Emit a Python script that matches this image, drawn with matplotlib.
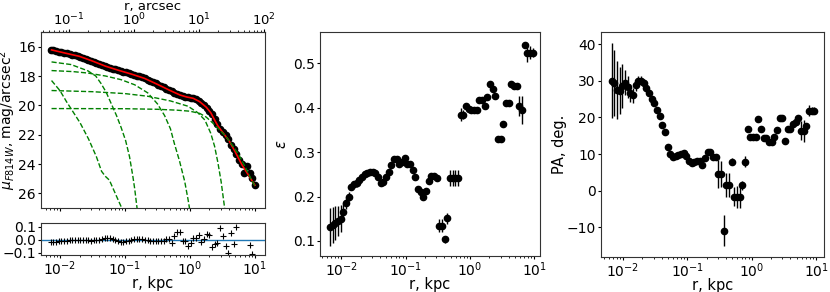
import numpy as np
import matplotlib
matplotlib.use("Agg")
import matplotlib.pyplot as plt

# ---------------- data ----------------
KPC_PER_ARCSEC = 0.137

# surface-brightness profile radii (kpc)
r_prof = [0.00720, 0.00792, 0.00871, 0.00958, 0.01054, 0.01160, 0.01276, 0.01403, 0.01543, 0.01698,
          0.01868, 0.02054, 0.02260, 0.02486, 0.02734, 0.03008, 0.03309, 0.03640, 0.04004, 0.04404,
          0.04844, 0.05329, 0.05862, 0.06448, 0.07093, 0.07802, 0.08582, 0.09440, 0.1038, 0.1142,
          0.1257, 0.1382, 0.1520, 0.1672, 0.1840, 0.2024, 0.2226, 0.2449, 0.2693, 0.2963,
          0.3259, 0.3585, 0.3943, 0.4338, 0.4772, 0.5249, 0.5774, 0.6351, 0.6986, 0.7685,
          0.8453, 0.9299, 1.023, 1.125, 1.238, 1.361, 1.497, 1.647, 1.812, 1.993,
          2.192, 2.412, 2.653, 2.918, 3.210, 3.531, 3.884, 4.272, 4.700, 5.170,
          5.687, 6.255, 6.881, 7.569, 8.326, 9.159, 10.07]
mu_prof = [16.22, 16.26, 16.30, 16.34, 16.38, 16.42, 16.46, 16.50, 16.54, 16.59,
           16.64, 16.70, 16.76, 16.82, 16.88, 16.95, 17.02, 17.09, 17.16, 17.24,
           17.31, 17.37, 17.43, 17.49, 17.55, 17.60, 17.66, 17.71, 17.76, 17.81,
           17.87, 17.92, 17.97, 18.03, 18.10, 18.17, 18.25, 18.33, 18.42, 18.50,
           18.59, 18.68, 18.78, 18.88, 18.97, 19.05, 19.13, 19.20, 19.27, 19.35,
           19.40, 19.44, 19.47, 19.52, 19.60, 19.71, 19.84, 19.98, 20.18, 20.40,
           20.62, 20.95, 21.30, 21.62, 21.85, 22.02, 22.30, 22.68, 23.00, 23.32,
           23.75, 24.03, 24.59, 24.14, 24.62, 24.95, 25.42]
resid = [-0.018, -0.016, -0.014, -0.012, -0.010, -0.008, -0.006, -0.003, 0.000, 0.002,
         0.002, 0.000, -0.002, -0.004, -0.005, -0.006, -0.005, -0.003, 0.002, 0.008,
         0.014, 0.018, 0.016, 0.008, -0.004, -0.012, -0.016, -0.015, -0.012, -0.006,
         0.000, 0.005, 0.008, 0.008, 0.006, 0.002, -0.004, -0.008, -0.010, -0.012,
         -0.012, -0.008, -0.006, 0.004, 0.008, -0.026, 0.026, 0.059, 0.059, -0.008,
         -0.008, -0.051, -0.026, 0.013, 0.018, 0.038, -0.013, 0.008, 0.044, 0.038,
         -0.059, -0.033, -0.026, 0.095, 0.026, -0.051, -0.103, 0.051, -0.033, 0.103,
         np.nan, np.nan, np.nan, np.nan, -0.038, -0.110, np.nan]

# total model (red)
r_model = [0.00741, 0.01259, 0.01995, 0.03162, 0.05012, 0.07943, 0.1259, 0.1995, 0.3162, 0.5012,
           0.7079, 0.8913, 1.122, 1.413, 1.778, 2.089, 2.399, 2.692, 3.162, 3.981,
           5.012, 6.310, 7.943, 10.0]
mu_model = [16.22, 16.46, 16.66, 16.98, 17.33, 17.61, 17.87, 18.16, 18.57, 19.00,
            19.30, 19.43, 19.52, 19.75, 20.12, 20.50, 21.00, 21.40, 21.82, 22.40,
            23.20, 24.05, 24.75, 25.45]

# model components (green dashed)
r_c1 = [0.00741, 0.01, 0.01259, 0.01514, 0.02042, 0.02754, 0.03631, 0.04365, 0.05012, 0.05754, 0.07079, 0.08913, 0.1]
mu_c1 = [18.31, 19.0, 19.75, 20.3, 21.2, 22.3, 23.5, 24.5, 24.85, 25.1, 26.0, 27.0, 27.5]
r_c2 = [0.00741, 0.01479, 0.02692, 0.03548, 0.04266, 0.05129, 0.06166, 0.07413, 0.08710, 0.1023, 0.1175, 0.1318, 0.1413, 0.1514, 0.1585]
mu_c2 = [17.04, 17.22, 17.65, 18.0, 18.5, 19.1, 19.9, 20.7, 21.5, 22.4, 23.5, 24.8, 25.7, 26.8, 27.5]
r_c3 = [0.00741, 0.01585, 0.02692, 0.05012, 0.08710, 0.1413, 0.2239, 0.3162, 0.4074, 0.5012, 0.5754, 0.6918, 0.8318, 0.9333, 1.0]
mu_c3 = [17.63, 17.7, 17.8, 18.0, 18.25, 18.6, 19.15, 19.9, 20.7, 21.6, 22.6, 23.8, 25.2, 26.4, 27.2]
r_c4 = [0.00741, 0.03162, 0.1, 0.2239, 0.5012, 0.9333, 1.318, 1.698, 2.089, 2.399, 2.692, 3.020, 3.236, 3.467]
mu_c4 = [18.99, 19.07, 19.2, 19.38, 19.7, 20.06, 20.5, 21.0, 21.9, 22.8, 23.9, 25.2, 26.2, 27.2]
r_c5 = [0.00741, 0.1, 0.3162, 0.6310, 1.0, 1.413, 1.778, 2.239, 2.818, 3.548, 4.467, 5.623, 7.079, 8.913, 10.0]
mu_c5 = [20.22, 20.23, 20.27, 20.33, 20.4, 20.55, 20.8, 21.2, 21.65, 22.1, 22.7, 23.35, 24.2, 25.1, 25.5]

# isophote-fit radii (kpc)
r_iso = [0.00670, 0.00737, 0.00811, 0.00892, 0.00981, 0.01079, 0.01187, 0.01306, 0.01436, 0.01580,
         0.01738, 0.01912, 0.02103, 0.02313, 0.02544, 0.02799, 0.03079, 0.03387, 0.03725, 0.04098,
         0.04508, 0.04959, 0.05455, 0.06000, 0.06600, 0.07260, 0.07986, 0.08785, 0.09663, 0.1063,
         0.1169, 0.1286, 0.1415, 0.1556, 0.1712, 0.1883, 0.2072, 0.2279, 0.2507, 0.2757,
         0.3033, 0.3336, 0.3670, 0.4037, 0.4441, 0.4885, 0.5373, 0.5911, 0.6502, 0.7152,
         0.7867, 0.8654, 0.9519, 1.047, 1.152, 1.267, 1.394, 1.533, 1.686, 1.855,
         2.041, 2.245, 2.469, 2.716, 2.988, 3.287, 3.615, 3.977, 4.374, 4.812,
         5.293, 5.822, 6.404, 7.045, 7.750, 8.525, 9.377]

eps = [0.132, 0.136, 0.140, 0.145, 0.150, 0.166, 0.185, 0.200, 0.222, 0.228,
       0.230, 0.237, 0.245, 0.250, 0.254, 0.255, 0.255, 0.252, 0.243, 0.230,
       0.233, 0.245, 0.256, 0.271, 0.284, 0.284, 0.273, 0.278, 0.287, 0.273,
       0.273, 0.260, 0.243, 0.216, 0.211, 0.200, 0.213, 0.234, 0.247, 0.247,
       0.241, 0.134, 0.134, 0.104, 0.151, 0.241, 0.241, 0.241, 0.241, 0.384,
       0.384, 0.404, 0.397, 0.395, 0.394, 0.394, 0.417, 0.417, 0.404, 0.423,
       0.453, 0.442, 0.426, 0.330, 0.330, 0.363, 0.411, 0.411, 0.453, 0.450,
       0.448, 0.404, 0.395, 0.541, 0.524, 0.524, 0.524]
eps_err = [0.043, 0.040, 0.038, 0.033, 0.030, 0.020, 0.013, 0.010, 0.008, 0.008,
           0.008, 0.006, 0.006, 0.006, 0.006, 0.006, 0.005, 0.005, 0.005, 0.005,
           0.004, 0.004, 0.004, 0.004, 0.004, 0.004, 0.004, 0.004, 0.004, 0.004,
           0.004, 0.004, 0.004, 0.004, 0.004, 0.004, 0.004, 0.004, 0.004, 0.004,
           0.004, 0.015, 0.015, 0.008, 0.012, 0.018, 0.018, 0.018, 0.018, 0.015,
           0.010, 0.003, 0.003, 0.003, 0.003, 0.003, 0.003, 0.003, 0.003, 0.003,
           0.003, 0.003, 0.003, 0.003, 0.003, 0.003, 0.003, 0.003, 0.003, 0.003,
           0.003, 0.022, 0.032, 0.004, 0.020, 0.015, 0.010]

pa = [30.0, 29.5, 27.5, 27.3, 28.6, 29.5, 28.2, 26.7, 26.0, 28.8,
      30.0, 30.0, 29.3, 28.0, 26.7, 25.0, 23.8, 22.0, 20.4, 17.8,
      16.1, 12.0, 10.0, 9.2, 9.4, 9.7, 10.0, 10.4, 9.5, 8.0,
      7.5, 7.8, 8.1, 8.2, 7.0, 9.0, 10.6, 10.6, 9.1, 9.1,
      4.5, 4.5, -10.9, 1.5, 1.5, 7.9, -1.6, -1.6, -1.6, 1.5,
      7.9, 16.9, 14.7, 14.7, 14.7, 19.6, 16.8, 14.5, 14.5, 13.4,
      13.4, 14.7, 16.5, 19.7, 19.7, 13.5, 16.7, 16.7, 18.1, 18.8,
      19.7, 16.4, 16.4, 17.6, 21.8, 21.8, 21.8]
pa_err = [10.3, 9.0, 8.0, 6.5, 6.0, 3.5, 3.0, 2.5, 2.0, 1.5,
          1.2, 1.2, 1.2, 1.2, 1.0, 0.8, 0.8, 0.8, 0.8, 0.8,
          0.8, 0.8, 0.8, 0.8, 0.8, 0.8, 0.8, 0.8, 0.8, 0.8,
          0.8, 0.8, 0.8, 0.8, 0.8, 0.8, 0.8, 0.8, 0.8, 0.8,
          3.8, 3.5, 4.2, 3.2, 3.2, 1.0, 2.5, 3.0, 3.0, 1.2,
          1.5, 0.5, 0.5, 0.5, 0.5, 0.5, 0.5, 0.5, 0.5, 0.5,
          0.5, 0.5, 0.5, 0.5, 0.5, 0.5, 0.5, 0.5, 0.5, 0.5,
          0.5, 2.5, 3.0, 0.6, 1.5, 1.0, 1.0]

arcsec_ticks = [0.1, 1, 10, 100]

# ---------------- figure ----------------
plt.rcParams.update({
    'font.size': 10,
    'xtick.major.size': 2.5, 'ytick.major.size': 2.5,
    'xtick.minor.size': 1.5, 'ytick.minor.size': 1.5,
    'xtick.major.pad': 1.0, 'ytick.major.pad': 1.2,
    'xtick.minor.pad': 1.0, 'ytick.minor.pad': 1.2,
    'axes.labelpad': 0.5,
    'axes.edgecolor': '#333333',
})

W, H = 830, 292
fig = plt.figure(figsize=(W / 100, H / 100), dpi=100)


def box(x0, y0, x1, y1):
    return [x0 / W, 1 - y1 / H, (x1 - x0) / W, (y1 - y0) / H]


TFS = 10     # tick labels
LFS = 10.5   # axis labels

# left: profile
ax1 = fig.add_axes(box(41, 32, 265, 208))
ax1.plot(r_prof, mu_prof, 'o', color='black', ms=4.5, zorder=2)
ax1.plot(r_model, mu_model, '-', color='red', lw=1.2, zorder=3)
for rc, mc in [(r_c1, mu_c1), (r_c2, mu_c2), (r_c3, mu_c3), (r_c4, mu_c4), (r_c5, mu_c5)]:
    ax1.plot(rc, mc, '--', color='green', lw=1.0, zorder=4)
ax1.set_xscale('log')
ax1.set_xlim(0.0051, 14.3)
ax1.set_ylim(27.0, 15.0)
ax1.set_yticks([16, 18, 20, 22, 24, 26])
ax1.tick_params(labelsize=TFS)
ax1.tick_params(axis='x', labelbottom=False)
ax1.set_ylabel(r'$\mu_{F814W}$, mag/arcsec$^2$', fontsize=10, labelpad=0)
sec = ax1.secondary_xaxis('top', functions=(lambda x: x / KPC_PER_ARCSEC,
                                            lambda x: x * KPC_PER_ARCSEC))
sec.set_xticks(arcsec_ticks)
sec.tick_params(labelsize=9.5, pad=0.3)
sec.set_xlabel('r, arcsec', fontsize=9.5, labelpad=1)

# left: residuals
ax1r = fig.add_axes(box(41, 223, 265, 255))
ax1r.axhline(0, color='C0', lw=1.0, zorder=1)
ax1r.plot(r_prof, resid, '+', color='black', ms=4, mew=0.8, zorder=2)
ax1r.set_xscale('log')
ax1r.set_xlim(0.0051, 14.3)
ax1r.set_ylim(-0.118, 0.131)
ax1r.set_yticks([-0.1, 0.0, 0.1])
ax1r.tick_params(labelsize=TFS)
ax1r.set_xlabel('r, kpc', fontsize=LFS, labelpad=-2)

# middle: ellipticity
ax2 = fig.add_axes(box(320, 32, 540, 256))
ax2.errorbar(r_iso, eps, yerr=eps_err, fmt='o', color='black', ms=4.5,
             ecolor='black', elinewidth=1.0)
ax2.set_xscale('log')
ax2.set_xlim(0.0047, 12.2)
ax2.set_ylim(0.066, 0.5705)
ax2.set_yticks([0.1, 0.2, 0.3, 0.4, 0.5])
ax2.tick_params(labelsize=TFS)
ax2.set_xlabel('r, kpc', fontsize=LFS, labelpad=-2)
ax2.set_ylabel(r'$\varepsilon$', fontsize=LFS, labelpad=3)

# right: position angle
ax3 = fig.add_axes(box(601, 32, 824, 257))
ax3.errorbar(r_iso, pa, yerr=pa_err, fmt='o', color='black', ms=4.5,
             ecolor='black', elinewidth=1.0)
ax3.set_xscale('log')
ax3.set_xlim(0.00457, 13.3)
ax3.set_ylim(-18.1, 43.3)
ax3.set_yticks([-10, 0, 10, 20, 30, 40])
ax3.tick_params(labelsize=TFS)
ax3.set_xlabel('r, kpc', fontsize=LFS, labelpad=-2)
ax3.set_ylabel('PA, deg.', fontsize=LFS, labelpad=0)

fig.savefig('out.png', dpi=100)
